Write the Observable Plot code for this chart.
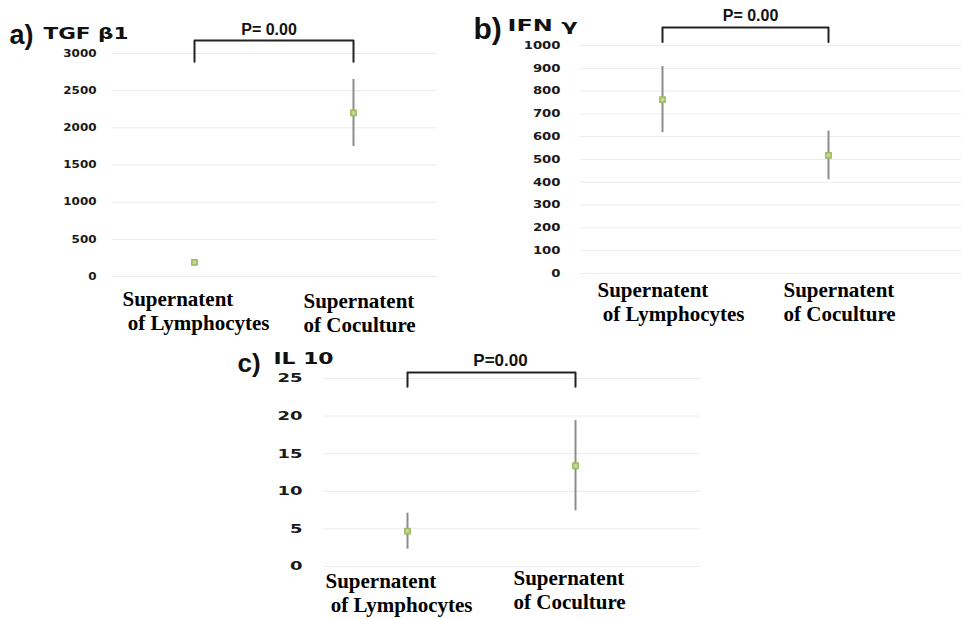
<!DOCTYPE html>
<html>
<head>
<meta charset="utf-8">
<script src="https://cdn.jsdelivr.net/npm/d3@7"></script>
<script src="https://cdn.jsdelivr.net/npm/@observablehq/plot@0.6"></script>
<style>
  html, body { margin: 0; padding: 0; background: #fff; }
  #fig { position: relative; width: 961px; height: 619px; overflow: hidden; }
  .panel { position: absolute; }
  .panel svg { overflow: visible; }
  #fig text.xlab, #fig text.xlab tspan {
    font-family: "Liberation Serif", "Times New Roman", serif !important;
    font-weight: bold !important;
  }
</style>
</head>
<body>
<div id="fig"></div>
<script>
// ---------- data ----------
const categories = ["Supernatent of Lymphocytes", "Supernatent of Coculture"];
const xLabels = ["Supernatent\n\u00a0of Lymphocytes", "Supernatent\nof Coculture"];

const tgfMean = [190, 2200];
const tgfErr = [20, 450];
const tgfTicks = [0, 500, 1000, 1500, 2000, 2500, 3000];

const ifnMean = [763, 518];
const ifnErr = [145, 107];
const ifnTicks = [0, 100, 200, 300, 400, 500, 600, 700, 800, 900, 1000];

const il10Mean = [4.7, 13.4];
const il10Err = [2.4, 6.0];
const il10Ticks = [0, 5, 10, 15, 20, 25];

const panelLetters = ["a)", "b)", "c)"];
const panelTitles = ["TGF β1", "IFN γ", "IL 10"];
const pLabels = ["P= 0.00", "P= 0.00", "P=0.00"];

// ---------- layout ----------
const panels = [
  {id: "pa", left: 0, top: 0, width: 460, height: 345, ml: 112, mr: 23, mt: 53, mb: 69,
   xRange: [194, 353], mean: tgfMean, err: tgfErr, ticks: tgfTicks,
   tickFont: 10, digitW: 8.3, tickPad: 16,
   bracket: [2890, 3175], pDx: -5, pDy: -19, pFont: 16,
   labelDx: [-72, -50], labelDy: [13, 15],
   letter: {dx: -103, dy: -10, size: 27}, title: {dx: -69, dy: -15, size: 16, w: 85}},
  {id: "pb", left: 470, top: 0, width: 491, height: 340, ml: 110, mr: 0, mt: 45, mb: 67,
   xRange: [192, 358], mean: ifnMean, err: ifnErr, ticks: ifnTicks,
   tickFont: 10, digitW: 9.2, tickPad: 20,
   bracket: [1015, 1079], pDx: 5, pDy: -25, pFont: 16,
   labelDx: [-65, -45], labelDy: [7, 7],
   letter: {dx: -107, dy: -7, size: 30}, title: {dx: -73, dy: -15, size: 15, w: 70}},
  {id: "pc", left: 230, top: 340, width: 470, height: 279, ml: 93, mr: 0, mt: 38, mb: 53,
   xRange: [177, 345], mean: il10Mean, err: il10Err, ticks: il10Ticks,
   tickFont: 12, digitW: 12.5, tickPad: 21,
   bracket: [23.9, 25.8], pDx: 9, pDy: -13, pFont: 17,
   labelDx: [-82, -62], labelDy: [5, 2],
   letter: {dx: -86, dy: -7, size: 26}, title: {dx: -50, dy: -15, size: 16, w: 60}}
];

const fig = document.getElementById("fig");

panels.forEach((p, k) => {
  const rows = categories.map((c, i) => ({i, cat: c, mean: p.mean[i], err: p.err[i]}));
  const br = [
    {x: 0, y: p.bracket[0]}, {x: 0, y: p.bracket[1]},
    {x: 1, y: p.bracket[1]}, {x: 1, y: p.bracket[0]}
  ];
  const yMax = p.ticks[p.ticks.length - 1];
  const labelMarks = xLabels.map((lab, i) =>
    Plot.text([lab], {
      x: i, y: 0, text: d => d, dx: p.labelDx[i], dy: p.labelDy[i],
      textAnchor: "start", lineAnchor: "top", lineHeight: 1.12,
      fontFamily: "Liberation Serif", fontWeight: "bold", fontSize: 21, fill: "#000"
    })
  );
  const chart = Plot.plot({
    width: p.width, height: p.height,
    marginLeft: p.ml, marginRight: p.mr, marginTop: p.mt, marginBottom: p.mb,
    x: {domain: [0, 1], range: p.xRange, axis: null},
    y: {domain: [0, yMax], axis: null},
    style: {background: "transparent", color: "#1a1a1a"},
    marks: [
      Plot.ruleY(p.ticks, {stroke: "#ececec", strokeWidth: 1}),
      Plot.axisY({ticks: p.ticks, tickFormat: d => String(d), tickSize: 0, tickPadding: p.tickPad, label: null,
                  fontSize: p.tickFont, fontWeight: "bold", fontFamily: "DejaVu Sans", fill: "#1a1a1a"}),
      Plot.ruleX(rows, {x: "i", y1: d => d.mean - d.err, y2: d => d.mean + d.err,
                        stroke: "#8c8c8c", strokeWidth: 2}),
      Plot.dot(rows, {x: "i", y: "mean", symbol: "square", r: 3,
                      fill: "#c3d69b", stroke: "#9bbb59", strokeWidth: 1.5}),
      Plot.line(br, {x: "x", y: "y", stroke: "#222", strokeWidth: 2}),
      Plot.text([pLabels[k]], {x: 0.5, frameAnchor: "top", text: d => d, dx: p.pDx, dy: p.pDy,
                  lineAnchor: "bottom", textAnchor: "middle",
                  fontFamily: "Liberation Sans", fontWeight: "bold", fontSize: p.pFont, fill: "#111"}),
      Plot.text([panelLetters[k]], {frameAnchor: "top-left", text: d => d,
                  dx: p.letter.dx, dy: p.letter.dy, lineAnchor: "bottom", textAnchor: "start",
                  fontFamily: "Liberation Sans", fontWeight: "bold", fontSize: p.letter.size, fill: "#111"}),
      Plot.text([panelTitles[k]], {frameAnchor: "top-left", text: d => d,
                  dx: p.title.dx, dy: p.title.dy, lineAnchor: "bottom", textAnchor: "start",
                  fontFamily: "DejaVu Sans", fontWeight: "bold", fontSize: p.title.size, fill: "#111"}),
      ...labelMarks
    ]
  });
  const div = document.createElement("div");
  div.className = "panel";
  div.id = p.id;
  div.style.left = p.left + "px";
  div.style.top = p.top + "px";
  div.appendChild(chart);
  fig.appendChild(div);

  const svg = d3.select(div);
  // wide, flat lettering of the tick labels
  svg.selectAll('g[aria-label="y-axis tick label"] text').each(function() {
    const n = this.textContent.length;
    d3.select(this)
      .attr("textLength", n * p.digitW)
      .attr("lengthAdjust", "spacingAndGlyphs")
      .style("font-family", "DejaVu Sans")
      .style("font-weight", "bold");
  });
  svg.selectAll("text").each(function() {
    const t = this.textContent;
    if (t === panelTitles[k]) {
      d3.select(this).attr("textLength", p.title.w).attr("lengthAdjust", "spacingAndGlyphs");
    }
    if (t.indexOf("Supernatent") >= 0) {
      d3.select(this).classed("xlab", true);
      d3.select(this.parentNode).attr("font-family", "Liberation Serif");
    }
  });
});
</script>
</body>
</html>
